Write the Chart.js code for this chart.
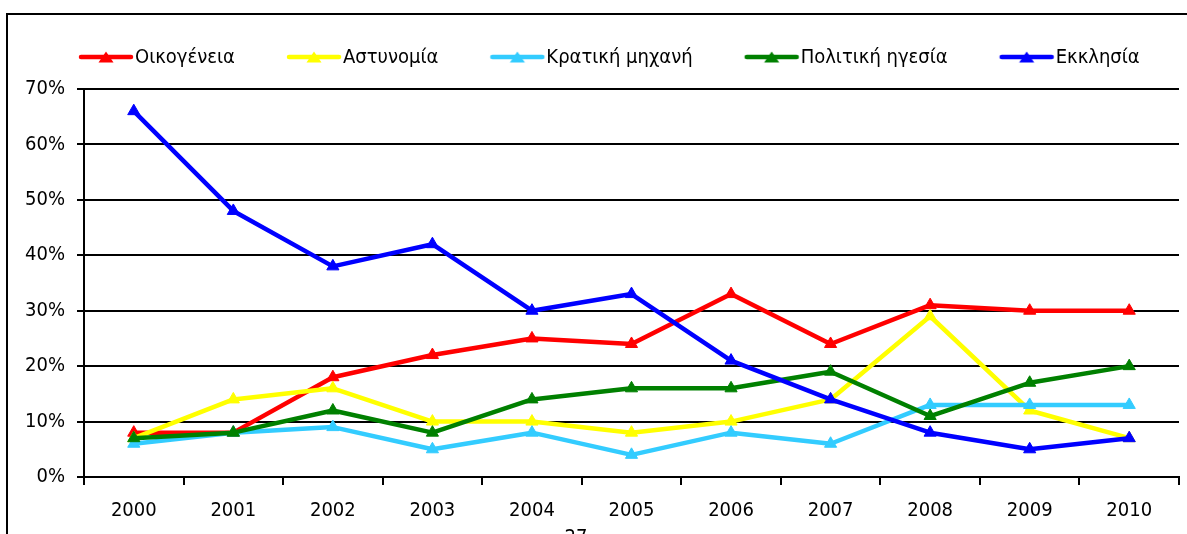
<!DOCTYPE html>
<html>
<head>
<meta charset="utf-8">
<script src="https://cdn.jsdelivr.net/npm/chart.js@4/dist/chart.umd.min.js"></script>
<style>
html,body{margin:0;padding:0;background:#fff;overflow:hidden}
#wrap{width:1187px;height:534px;position:relative}
canvas{display:block}
</style>
</head>
<body>
<div id="wrap"><canvas id="c" width="1187" height="534"></canvas></div>
<script>
// ---- data ----
const years = ['2000','2001','2002','2003','2004','2005','2006','2007','2008','2009','2010'];
const seriesNames = ['Οικογένεια','Αστυνομία','Κρατική μηχανή','Πολιτική ηγεσία','Εκκλησία'];
const oikogeneia     = [8, 8, 18, 22, 25, 24, 33, 24, 31, 30, 30];
const astynomia      = [7, 14, 16, 10, 10, 8, 10, 14, 29, 12, 7];
const kratikiMixani  = [6, 8, 9, 5, 8, 4, 8, 6, 13, 13, 13];
const politikiIgesia = [7, 8, 12, 8, 14, 16, 16, 19, 11, 17, 20];
const ekklisia       = [66, 48, 38, 42, 30, 33, 21, 14, 8, 5, 7];
const yMin = 0, yMax = 70, yStep = 10;
const pageNumber = '27';

const seriesValues = [oikogeneia, astynomia, kratikiMixani, politikiIgesia, ekklisia];
const colors = ['#FF0000', '#FFFF00', '#33CCFF', '#008000', '#0000FF'];
const FONT = "'DejaVu Sans Condensed', 'DejaVu Sans', sans-serif";

// legend symbol: line with triangle marker
function legendSymbol(color) {
  const c = document.createElement('canvas');
  c.width = 108; c.height = 16;
  const g = c.getContext('2d');
  g.strokeStyle = color; g.lineWidth = 4.5; g.lineCap = 'round';
  g.beginPath(); g.moveTo(54, 7); g.lineTo(104, 7); g.stroke();
  g.fillStyle = color;
  g.beginPath(); g.moveTo(79, 1.5); g.lineTo(86.5, 12.5); g.lineTo(71.5, 12.5); g.closePath(); g.fill();
  return c;
}
const legendImages = colors.map(legendSymbol);

const datasets = seriesNames.map((name, i) => ({
  label: name,
  data: seriesValues[i],
  borderColor: colors[i],
  backgroundColor: colors[i],
  borderWidth: 4.5,
  borderCapStyle: 'round',
  borderJoinStyle: 'round',
  pointStyle: 'triangle',
  pointRadius: 7,
  pointHoverRadius: 7,
  pointBorderWidth: 1,
  pointBackgroundColor: colors[i],
  pointBorderColor: colors[i],
  tension: 0,
  fill: false,
  order: seriesNames.length - 1 - i
}));

const helperPlugin = {
  id: 'helper',
  beforeLayout(chart) {
    const lg = chart.legend;
    if (lg && !lg._fixH) {
      const f = lg.fit;
      lg.fit = function () { f.call(this); this.height = 51; };
      lg._fixH = true;
    }
  },
  afterLayout(chart) {
    const lg = chart.legend;
    if (lg) {
      const dx = 37 - (lg.left + 10);
      lg.left += dx; lg.right += dx;
    }
  },
  beforeDraw(chart) {
    const ctx = chart.ctx;
    ctx.save();
    ctx.fillStyle = '#fff';
    ctx.fillRect(0, 0, chart.width, chart.height);
    ctx.restore();
  },
  afterDraw(chart) {
    const ctx = chart.ctx;
    ctx.save();
    ctx.strokeStyle = '#000';
    ctx.lineWidth = 2;
    ctx.strokeRect(7, 14, 1400, 800);
    ctx.fillStyle = '#000';
    ctx.font = '20px ' + FONT;
    ctx.textAlign = 'center';
    ctx.textBaseline = 'alphabetic';
    ctx.fillText(pageNumber, 576, 543);
    ctx.restore();
  }
};

Chart.defaults.color = '#000';
Chart.defaults.font.family = FONT;

new Chart(document.getElementById('c'), {
  type: 'line',
  data: { labels: years, datasets },
  options: {
    responsive: false,
    animation: false,
    events: [],
    layout: { padding: { top: 38, left: 0, right: 8, bottom: 0 } },
    plugins: {
      tooltip: { enabled: false },
      title: { display: false },
      legend: {
        display: true,
        position: 'top',
        align: 'start',
        labels: {
          color: '#000',
          font: { family: FONT, size: 20 },
          usePointStyle: true,
          pointStyleWidth: 88,
          padding: 10,
          sort: (a, b) => a.datasetIndex - b.datasetIndex,
          generateLabels(chart) {
            const items = Chart.defaults.plugins.legend.labels.generateLabels(chart);
            items.forEach(it => { it.pointStyle = legendImages[it.datasetIndex]; });
            return items;
          }
        }
      }
    },
    scales: {
      x: {
        type: 'category',
        offset: true,
        grid: { offset: true, drawOnChartArea: false, drawTicks: true, tickLength: 8, color: '#000', lineWidth: 2 },
        border: { display: true, color: '#000', width: 2 },
        ticks: { color: '#000', font: { family: FONT, size: 20 }, padding: 14, maxRotation: 0, autoSkip: false },
        afterFit(s) { s.height = 57; }
      },
      y: {
        min: yMin, max: yMax,
        ticks: { stepSize: yStep, color: '#000', font: { family: FONT, size: 20 }, padding: 12, callback: v => v + '%' },
        grid: { color: '#000', lineWidth: 2, tickLength: 7, drawTicks: true },
        border: { display: true, color: '#000', width: 2 },
        afterFit(s) { s.width = 84; }
      }
    }
  },
  plugins: [helperPlugin]
});
</script>
</body>
</html>
